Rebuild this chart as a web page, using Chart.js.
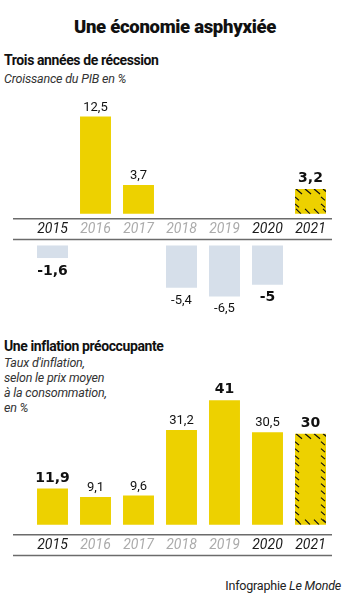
<!DOCTYPE html>
<html lang="fr">
<head>
<meta charset="utf-8">
<title>Une économie asphyxiée</title>
<script src="https://cdn.jsdelivr.net/npm/chart.js@4.4.0/dist/chart.umd.min.js"></script>
<style>
  html, body { margin: 0; padding: 0; background: #fff; }
  body { width: 350px; height: 611px; position: relative; overflow: hidden; font-family: Roboto, "Liberation Sans", sans-serif; color: #111; }
  .txt { position: absolute; white-space: nowrap; }
  .title { left: 0; width: 350px; top: 16px; text-align: center; font-size: 18.5px; line-height: 22px; font-weight: 900; letter-spacing: -0.3px; }
  .sub { left: 4px; font-size: 14px; line-height: 18px; font-weight: 700; letter-spacing: -0.4px; }
  .note { left: 4px; font-size: 12.5px; line-height: 15px; font-style: italic; color: #333; letter-spacing: -0.2px; }
  .credit { right: 9px; top: 578px; font-size: 12.5px; line-height: 16px; color: #222; letter-spacing: -0.2px; }
  canvas { position: absolute; left: 13px; }
</style>
</head>
<body>
<div class="txt title">Une économie asphyxiée</div>
<div class="txt sub" style="top:51px">Trois années de récession</div>
<div class="txt note" style="top:71px">Croissance du PIB en %</div>
<canvas id="gdpUp" width="320" height="146" style="top:95px"></canvas>
<canvas id="gdpDown" width="320" height="85" style="top:241px"></canvas>

<div class="txt sub" style="top:337px">Une inflation préoccupante</div>
<div class="txt note" style="top:355px">Taux d'inflation,<br>selon le prix moyen<br>à la consommation,<br>en %</div>
<canvas id="infl" width="320" height="177" style="top:380px"></canvas>
<div class="txt credit">Infographie <i>Le Monde</i></div>

<script>
// data
var years = ['2015', '2016', '2017', '2018', '2019', '2020', '2021'];
var gdp = [-1.6, 12.5, 3.7, -5.4, -6.5, -5, 3.2];
var inflation = [11.9, 9.1, 9.6, 31.2, 41, 30.5, 30];
var greyYears = ['2016', '2017', '2018', '2019'];
var gdpBold = ['2015', '2020', '2021'];
var inflBold = ['2015', '2019', '2021'];
var forecastYears = ['2021'];

(function(){
  'use strict';

  var YELLOW = '#edd100';
  var BLUE = '#d6dfea';
  var RULE = '#6b6b6b';

  function fmt(v){
    return String(v).replace('.', ',');
  }

  // value labels above / below each bar
  var valueLabels = {
    id: 'valueLabels',
    afterDatasetsDraw: function(chart, args, opts){
      var ctx = chart.ctx;
      var data = chart.data.datasets[0].data;
      chart.getDatasetMeta(0).data.forEach(function(bar, i){
        var v = data[i];
        if (v === null || v === undefined) return;
        var bold = opts.bold.indexOf(chart.data.labels[i]) >= 0;
        ctx.save();
        ctx.font = bold ? 'bold 14px "DejaVu Sans"' : '13px Roboto';
        ctx.fillStyle = '#111';
        ctx.textAlign = 'center';
        if (v >= 0) {
          ctx.textBaseline = 'alphabetic';
          ctx.fillText(fmt(v), bar.x, bar.y - (bold ? 7 : 6));
        } else {
          ctx.textBaseline = 'top';
          ctx.fillText(fmt(v), bar.x, bar.y + 6);
        }
        ctx.restore();
      });
    }
  };

  // dashed diagonal hatching on forecast bars
  var hatch = {
    id: 'hatch',
    afterDatasetsDraw: function(chart){
      var ctx = chart.ctx;
      var data = chart.data.datasets[0].data;
      chart.getDatasetMeta(0).data.forEach(function(bar, i){
        if (forecastYears.indexOf(chart.data.labels[i]) < 0) return;
        if (data[i] === null || data[i] === undefined) return;
        var l = bar.x - bar.width / 2, r = bar.x + bar.width / 2;
        var t = Math.min(bar.y, bar.base), b = Math.max(bar.y, bar.base);
        ctx.save();
        ctx.beginPath();
        ctx.rect(l, t, r - l, b - t);
        ctx.clip();
        ctx.strokeStyle = '#111';
        ctx.lineWidth = 1.2;
        ctx.beginPath();
        var y, x;
        for (y = t + 8; y < b - 4; y += 7) {
          ctx.moveTo(l, y); ctx.lineTo(l + 4, y + 3.5);
          ctx.moveTo(r - 5, y); ctx.lineTo(r - 1, y + 3.5);
        }
        for (x = l + 1; x < r; x += 9) {
          ctx.moveTo(x, t); ctx.lineTo(x + 6, t + 5);
          ctx.moveTo(x, b - 5); ctx.lineTo(x + 5, b);
        }
        ctx.stroke();
        ctx.restore();
      });
    }
  };

  // the two horizontal rules around the year labels
  var rules = {
    id: 'rules',
    afterDraw: function(chart, args, opts){
      if (!opts.draw) return;
      var ctx = chart.ctx;
      var xs = chart.scales.x;
      ctx.save();
      ctx.strokeStyle = RULE;
      ctx.lineWidth = 1.5;
      ctx.beginPath();
      ctx.moveTo(0, xs.top); ctx.lineTo(chart.chartArea.right, xs.top);
      ctx.moveTo(0, xs.bottom); ctx.lineTo(chart.chartArea.right, xs.bottom);
      ctx.stroke();
      ctx.restore();
    }
  };

  function yearColor(c){
    return greyYears.indexOf(years[c.index]) >= 0 ? '#ababab' : '#1a1a1a';
  }

  function makeChart(id, values, color, yMin, yMax, showYears, bold){
    return new Chart(document.getElementById(id), {
      type: 'bar',
      data: {
        labels: years,
        datasets: [{
          data: values,
          backgroundColor: color,
          borderWidth: 0,
          barPercentage: 0.72,
          categoryPercentage: 1
        }]
      },
      options: {
        responsive: false,
        animation: false,
        events: [],
        layout: { padding: { left: 18, right: 1, top: 0, bottom: showYears ? 1.5 : 0 } },
        scales: {
          x: {
            display: showYears,
            grid: { display: false, drawTicks: false },
            border: { display: false },
            ticks: {
              padding: 2,
              color: yearColor,
              font: { family: 'Roboto', size: 14, style: 'italic' }
            }
          },
          y: { display: false, min: yMin, max: yMax }
        },
        plugins: {
          legend: { display: false },
          tooltip: { enabled: false },
          valueLabels: { bold: bold },
          rules: { draw: showYears }
        }
      },
      plugins: [valueLabels, hatch, rules]
    });
  }

  document.addEventListener('DOMContentLoaded', function(){
    var up = gdp.map(function(v){ return v > 0 ? v : null; });
    var down = gdp.map(function(v){ return v < 0 ? v : null; });
    makeChart('gdpUp', up, YELLOW, -0.63, 15.28, true, gdpBold);
    makeChart('gdpDown', down, BLUE, -10.26, 0.57, false, gdpBold);
    makeChart('infl', inflation, YELLOW, -3.32, 47.7, true, inflBold);
  });
})();
</script>
</body>
</html>
